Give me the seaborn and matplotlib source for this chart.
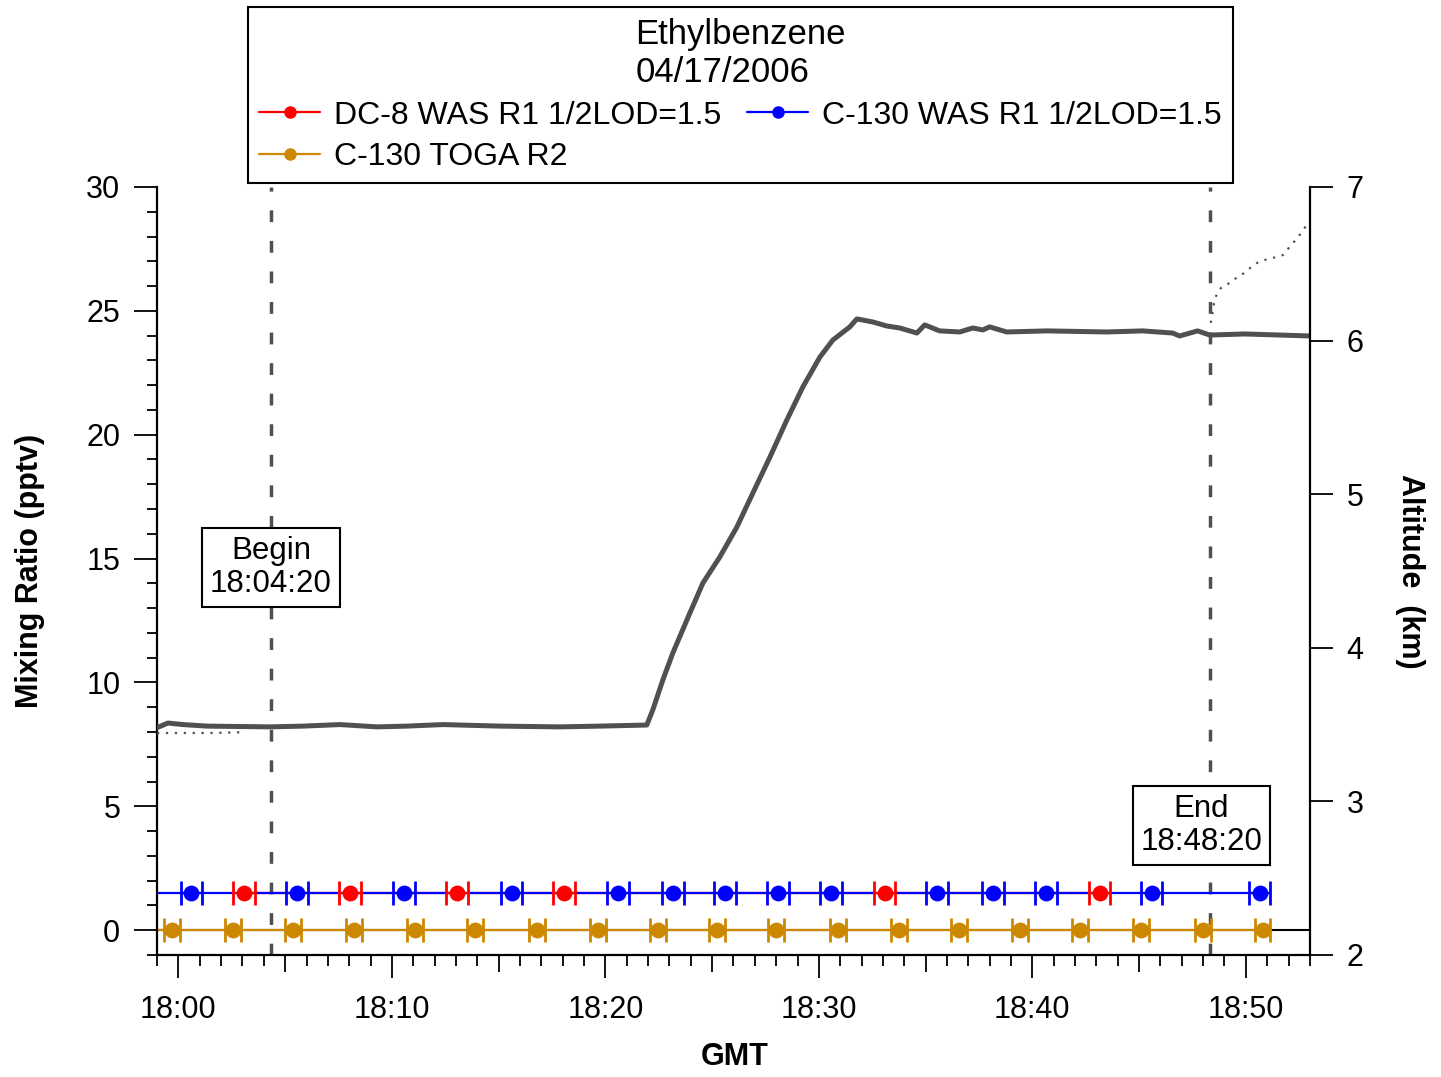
import matplotlib
matplotlib.use('Agg')
import pandas as pd
import matplotlib.pyplot as plt
import seaborn as sns
from matplotlib.lines import Line2D
from matplotlib.ticker import FixedLocator, MultipleLocator, FuncFormatter

# sample times (GMT) and mixing ratios (pptv), values below LOD plotted at 1/2 LOD
dc8_was_times = ['18:03:04', '18:08:02', '18:13:03', '18:18:04', '18:33:05', '18:43:09']
dc8_was_pptv = [1.5, 1.5, 1.5, 1.5, 1.5, 1.5]

c130_was_times = ['17:55:36', '18:00:36', '18:05:33', '18:10:34', '18:15:37', '18:20:35',
                  '18:23:10', '18:25:36', '18:28:05', '18:30:34', '18:35:32', '18:38:09',
                  '18:40:38', '18:45:35', '18:50:39']
c130_was_pptv = [1.5, 1.5, 1.5, 1.5, 1.5, 1.5, 1.5, 1.5, 1.5, 1.5, 1.5, 1.5, 1.5, 1.5, 1.5]

toga_times = ['17:56:50', '17:59:42', '18:02:34', '18:05:22', '18:08:14', '18:11:06',
              '18:13:54', '18:16:48', '18:19:39', '18:22:28', '18:25:13', '18:27:59',
              '18:30:53', '18:33:45', '18:36:34', '18:39:25', '18:42:14', '18:45:05',
              '18:47:59', '18:50:47']
toga_pptv = [0.0] * 20

# sampling half windows (minutes)
was_half_window = 0.5
toga_half_window = 0.37

# C-130 altitude (minutes after 18:00, km)
c130_alt_min = [-1.0, -0.49, 0.21, 1.34, 4.29, 5.84, 7.57, 9.30, 10.7, 12.39, 15.06, 17.87,
                19.75, 21.94, 22.22, 22.69, 23.16, 23.96, 24.57, 25.36, 26.16, 26.91, 27.71,
                28.50, 29.25, 30.05, 30.66, 31.45, 31.78, 32.53, 33.18, 33.79, 34.59, 34.96,
                35.66, 36.60, 37.21, 37.68, 38.0, 38.80, 40.68, 43.49, 45.17, 46.57, 46.9,
                47.74, 48.31, 49.95, 53.0]
c130_alt_km = [3.48, 3.51, 3.50, 3.49, 3.485, 3.49, 3.50, 3.485, 3.49, 3.50, 3.49, 3.485,
               3.49, 3.497, 3.595, 3.790, 3.966, 4.227, 4.422, 4.591, 4.786, 5.008, 5.242,
               5.483, 5.698, 5.893, 6.004, 6.089, 6.141, 6.121, 6.095, 6.082, 6.049, 6.102,
               6.063, 6.056, 6.082, 6.069, 6.089, 6.056, 6.063, 6.056, 6.063, 6.049, 6.030,
               6.063, 6.036, 6.043, 6.030]

# DC-8 altitude, only where it separates from the C-130 trace
dc8_alt_min = [-1.0, 1.5, 3.0,
               48.36, 48.55, 48.83, 49.16, 49.48, 49.86, 50.14, 50.52, 50.89, 51.27,
               51.74, 51.93, 52.21, 52.49, 52.72, 52.95]
dc8_alt_km = [3.445, 3.445, 3.45,
              6.115, 6.277, 6.342, 6.368, 6.401, 6.434, 6.466, 6.505, 6.525, 6.538,
              6.557, 6.590, 6.635, 6.681, 6.727, 6.772]
dc8_alt_seg = [0, 0, 0, 1, 1, 1, 1, 1, 1, 1, 1, 1, 1, 1, 1, 1, 1, 1, 1]

begin_min = 4 + 20 / 60
end_min = 48 + 20 / 60


def to_min(times):
    td = pd.to_timedelta(times) - pd.Timedelta(hours=18)
    return td.total_seconds() / 60


red = '#FF0000'
blue = '#0000FF'
gold = '#CC8800'
gray = '#505050'

sns.set_theme(style='ticks')
plt.rcParams['font.family'] = ['Liberation Sans', 'DejaVu Sans']
plt.rcParams['text.color'] = 'black'
plt.rcParams['axes.labelcolor'] = 'black'
plt.rcParams['xtick.color'] = 'black'
plt.rcParams['ytick.color'] = 'black'

fig, ax = plt.subplots(figsize=(14.41, 10.77), dpi=100)
fig.subplots_adjust(left=0.109, right=0.909, top=0.8264, bottom=0.1133)
ax2 = ax.twinx()

dc8_t = to_min(dc8_was_times)
c130_t = to_min(c130_was_times)
toga_t = to_min(toga_times)

ax.axhline(0, color='black', lw=1.5, zorder=1)

# connecting lines
sns.lineplot(x=dc8_t, y=dc8_was_pptv, color=red, lw=1.6, ax=ax, zorder=2)
sns.lineplot(x=c130_t, y=c130_was_pptv, color=blue, lw=1.6, ax=ax, zorder=2.1)
sns.lineplot(x=toga_t, y=toga_pptv, color=gold, lw=1.6, ax=ax, zorder=2.1)

# sampling windows
for t, v, c in [(dc8_t, dc8_was_pptv, red), (c130_t, c130_was_pptv, blue)]:
    ax.errorbar(t, v, xerr=was_half_window, fmt='none', ecolor=c, elinewidth=1.6,
                capsize=8.5, capthick=2, zorder=3)
ax.errorbar(toga_t, toga_pptv, xerr=toga_half_window, fmt='none', ecolor=gold,
            elinewidth=1.6, capsize=8.5, capthick=2, zorder=3)

sns.scatterplot(x=dc8_t, y=dc8_was_pptv, color=red, s=130, linewidth=0, ax=ax, zorder=4)
sns.scatterplot(x=c130_t, y=c130_was_pptv, color=blue, s=130, linewidth=0, ax=ax, zorder=4)
sns.scatterplot(x=toga_t, y=toga_pptv, color=gold, s=130, linewidth=0, ax=ax, zorder=4)

# begin / end of comparison leg
for xm in (begin_min, end_min):
    ax.axvline(xm, color=gray, lw=2.5, linestyle=(0, (3.4, 5.4)), zorder=1.5)
box = dict(boxstyle='square,pad=0.25', fc='white', ec='black', lw=1.5)
ax.text(begin_min, 14.65, 'Begin\n18:04:20', ha='center', va='center', fontsize=22.5,
        linespacing=1.15, bbox=box, zorder=6)
ax.text(47.92, 4.23, 'End\n18:48:20', ha='center', va='center', fontsize=22.5,
        linespacing=1.15, bbox=box, zorder=6)

# altitude
sns.lineplot(x=c130_alt_min, y=c130_alt_km, color=gray, lw=3.6, ax=ax2,
             estimator=None, sort=False)
dc8_df = pd.DataFrame({'t': dc8_alt_min, 'alt': dc8_alt_km, 'seg': dc8_alt_seg})
sns.lineplot(data=dc8_df, x='t', y='alt', units='seg', estimator=None, sort=False,
             color=gray, lw=1.6, linestyle=(0, (1, 3)), ax=ax2)

# axes
ax.set_xlim(-1, 53)
ax.set_ylim(-1, 30)
ax2.set_ylim(2, 7)

ax.xaxis.set_major_locator(FixedLocator(list(range(0, 55, 5))))
ax.xaxis.set_minor_locator(MultipleLocator(1))
ax.xaxis.set_major_formatter(FuncFormatter(lambda v, p: f'18:{int(v):02d}' if v % 10 == 0 else ''))
ax.yaxis.set_major_locator(MultipleLocator(5))
ax.yaxis.set_minor_locator(MultipleLocator(1))
ax2.yaxis.set_major_locator(MultipleLocator(1))

for s in ['top', 'right']:
    ax.spines[s].set_visible(False)
for s in ['top', 'left', 'bottom']:
    ax2.spines[s].set_visible(False)
for s in ['left', 'bottom']:
    ax.spines[s].set_linewidth(1.6)
    ax.spines[s].set_color('black')
ax2.spines['right'].set_linewidth(1.6)
ax2.spines['right'].set_color('black')

ax.tick_params(axis='x', which='major', direction='out', length=16.5, width=1.3,
               pad=12, labelsize=22, colors='black')
ax.tick_params(axis='x', which='minor', direction='out', length=8, width=1.3, colors='black')
ax.tick_params(axis='y', which='major', direction='out', length=16.5, width=1.3,
               pad=10, labelsize=22, colors='black')
ax.tick_params(axis='y', which='minor', direction='out', length=7.5, width=1.3, colors='black')
ax2.tick_params(axis='y', which='major', direction='out', length=16.5, width=1.3,
                pad=10, labelsize=22, colors='black')

ax.set_xlabel('GMT', fontsize=22, fontweight='bold', va='top', color='black')
ax.xaxis.set_label_coords(0.501, -0.113)
ax.set_ylabel('Mixing Ratio (pptv)', fontsize=22, fontweight='bold', color='black')
ax.yaxis.set_label_coords(-0.097, 0.5)
ax2.set_ylabel('Altitude  (km)', fontsize=22, fontweight='bold', rotation=270,
               va='bottom', color='black')
ax2.yaxis.set_label_coords(1.074, 0.5)

# legend
handles = [Line2D([], [], color=red, lw=1.6, marker='o', markersize=8),
           Line2D([], [], color=gold, lw=1.6, marker='o', markersize=8),
           Line2D([], [], color=blue, lw=1.6, marker='o', markersize=8)]
labels = ['DC-8 WAS R1 1/2LOD=1.5', 'C-130 TOGA R2', 'C-130 WAS R1 1/2LOD=1.5']
leg = fig.legend(handles, labels, loc='upper center', bbox_to_anchor=(0.514, 0.9935),
                 ncol=2, fontsize=23, title='Ethylbenzene\n04/17/2006', title_fontsize=25,
                 frameon=True, fancybox=False, framealpha=1, edgecolor='black',
                 handlelength=1.9, handletextpad=0.45, columnspacing=0.8,
                 borderpad=0.35, labelspacing=0.35, borderaxespad=0)
leg.get_frame().set_linewidth(1.5)
for txt in leg.get_texts():
    txt.set_color('black')
leg.get_title().set_color('black')

# 10-minute ticks long, 5-minute ticks shorter
for loc, tick in zip(ax.xaxis.get_majorticklocs(), ax.xaxis.get_major_ticks()):
    if loc % 10:
        tick.tick1line.set_markersize(12)

fig.savefig('out.png', dpi=100)
